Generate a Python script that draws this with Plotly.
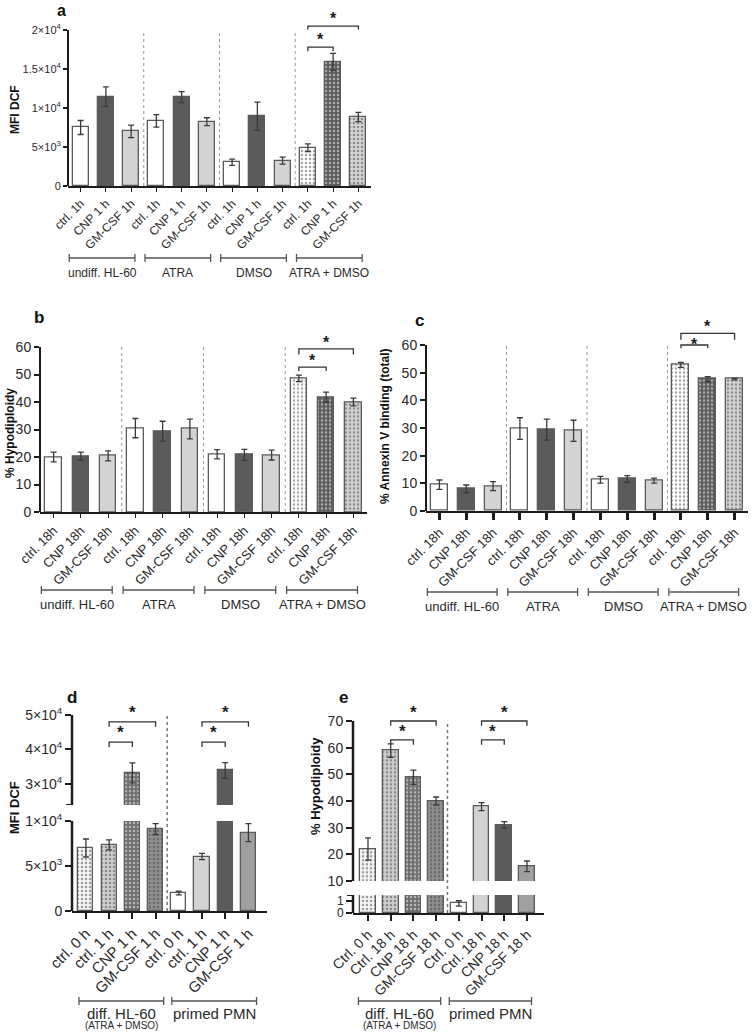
import plotly.graph_objects as go

W, H = 752, 1035
FONT = "Liberation Sans, Arial, sans-serif"
INK = "#1c1c1c"
EDGE = "#5a5a5a"

# ---------------- data ----------------
abc_groups = ["undiff. HL-60", "ATRA", "DMSO", "ATRA + DMSO"]

a_labels = ["ctrl. 1h", "CNP 1 h", "GM-CSF 1h"] * 4
a_mfi = [7500, 11450, 7000, 8350, 11400, 8250, 3050, 8950, 3250, 4900, 15900, 8850]
a_err = [900, 1250, 800, 800, 700, 500, 400, 1800, 450, 500, 1100, 600]

bc_labels = ["ctrl. 18h", "CNP 18h", "GM-CSF 18h"] * 4
b_hypo = [20.0, 20.3, 20.4, 30.5, 29.4, 30.2, 21.0, 20.8, 20.7, 48.6, 41.8, 40.0]
b_err = [1.8, 1.5, 1.8, 3.5, 3.6, 3.6, 1.7, 2.0, 1.8, 1.2, 1.8, 1.4]

c_annexin = [9.5, 8.0, 9.0, 29.8, 29.4, 29.0, 11.3, 11.6, 11.0, 52.8, 47.7, 47.7]
c_err = [1.7, 1.4, 1.6, 3.9, 3.8, 3.8, 1.2, 1.2, 0.9, 0.9, 0.9, 0.3]

de_groups = ["diff. HL-60", "primed PMN"]
de_sub = ["(ATRA + DMSO)", ""]

d_labels = ["ctrl. 0 h", "ctrl. 1 h", "CNP 1 h", "GM-CSF 1 h"] * 2
d_mfi = [7000, 7350, 33200, 9100, 2000, 6050, 33900, 8700]
d_err = [1000, 550, 2900, 600, 200, 350, 2300, 1000]

e_labels = ["Ctrl. 0 h", "Ctrl. 18 h", "CNP 18 h", "GM-CSF 18 h"] * 2
e_hypo = [22.0, 58.9, 48.9, 40.0, 0.8, 37.9, 31.0, 15.5]
e_err = [4.2, 2.5, 2.7, 1.5, 0.22, 1.5, 1.3, 2.0]

# significance: (from bar, to bar)
abc_sig = [(9, 10), (9, 11)]
de_sig = [(1, 2), (1, 3), (5, 6), (5, 7)]

# ---------------- styles ----------------
abc_fill = ["white", "#5b5b5b", "#d3d3d3"] * 4
abc_pat = [""] * 9 + [".", ".", "."]
abc_fg = ["#888888"] * 9 + ["#8a8a8a", "#2c2c2c", "#7c7c7c"]

de_fill = ["#f5f5f5", "#cdcdcd", "#6e6e6e", "#8f8f8f", "white", "#d3d3d3", "#5b5b5b", "#a0a0a0"]
de_pat = [".", ".", ".", ".", "", "", "", ""]
de_fg = ["#8c8c8c", "#7e7e7e", "#b9b9b9", "#c4c4c4", "#888", "#888", "#888", "#888"]

fig = go.Figure()
layout = {}
shapes = []
annos = []


def px_x(p):
    return p / W


def px_y(p):
    return 1 - p / H


def val_px(bottom_px, lo, ppu, v):
    return bottom_px - (v - lo) * ppu


def set_x(n, left, right, rng, labels, anchor, size, ticklen, tickwidth, visible=True):
    key = "xaxis" if n == 1 else f"xaxis{n}"
    layout[key] = dict(domain=[px_x(left), px_x(right)], range=rng, anchor=anchor,
                       tickmode="array", tickvals=list(range(len(labels))), ticktext=labels,
                       tickangle=-45, ticks="outside", ticklen=ticklen, tickwidth=tickwidth,
                       tickcolor=INK, showline=True, linewidth=2, linecolor=INK,
                       showgrid=False, zeroline=False, visible=visible, automargin=False,
                       tickfont=dict(family=FONT, size=size, color="#2a2a2a"))


def set_y(n, bottom_px, lo, ppu, hi, tickvals, ticktext, anchor, size, ticklen, tickwidth):
    key = "yaxis" if n == 1 else f"yaxis{n}"
    top_px = val_px(bottom_px, lo, ppu, hi)
    layout[key] = dict(domain=[px_y(bottom_px), px_y(top_px)], range=[lo, hi], anchor=anchor,
                       tickmode="array", tickvals=tickvals, ticktext=ticktext,
                       ticks="outside", ticklen=ticklen, tickwidth=tickwidth, tickcolor=INK,
                       showline=False, showgrid=False, zeroline=False, automargin=False,
                       tickfont=dict(family=FONT, size=size, color="#2a2a2a"))


def yline(xr, yr, y0, y1, w=2):
    shapes.append(dict(type="line", xref=f"{xr} domain", yref=yr, x0=0, x1=0, y0=y0, y1=y1,
                       line=dict(color=INK, width=w)))


def cap(xr, yr, y, frac, w=2):
    # little end cap where a broken axis stops
    shapes.append(dict(type="line", xref=f"{xr} domain", yref=yr, x0=-frac, x1=0, y0=y, y1=y,
                       line=dict(color=INK, width=w)))


def add_bars(xr, yr, vals, errs, fills, pats, fgs, width):
    fig.add_trace(go.Bar(
        x=list(range(len(vals))), y=vals, width=width, xaxis=xr, yaxis=yr,
        marker=dict(color=fills, line=dict(color=EDGE, width=1.3),
                    pattern=dict(shape=pats, fgcolor=fgs, bgcolor=fills, size=4,
                                 solidity=0.3, fillmode="overlay")),
        error_y=dict(type="data", array=errs, visible=True, color="#3a3a3a",
                     thickness=1.3, width=3),
        showlegend=False, hoverinfo="skip"))


def sig(xr, yr, x0, x1, y, tick, star_y, size=16):
    shapes.append(dict(type="path", xref=xr, yref=yr,
                       path=f"M {x0},{y - tick} L {x0},{y} L {x1},{y} L {x1},{y - tick}",
                       line=dict(color="#333", width=1.3)))
    annos.append(dict(xref=xr, yref=yr, x=(x0 + x1) / 2, y=star_y, text="<b>*</b>",
                      showarrow=False, yanchor="middle", yshift=-4,
                      font=dict(family=FONT, size=size, color=INK)))


def group(xr, x0, x1, y_px, label, label_px, size, sub="", sub_px=0):
    yb = px_y(y_px)
    c = 4 / H
    shapes.append(dict(type="path", xref=xr, yref="paper",
                       path=(f"M {x0},{yb + c} L {x0},{yb - c} M {x0},{yb} L {x1},{yb} "
                             f"M {x1},{yb + c} L {x1},{yb - c}"),
                       line=dict(color="#555", width=1.3)))
    annos.append(dict(xref=xr, yref="paper", x=(x0 + x1) / 2, y=px_y(label_px), text=label,
                      showarrow=False, yanchor="middle",
                      font=dict(family=FONT, size=size, color="#2a2a2a")))
    if sub:
        annos.append(dict(xref=xr, yref="paper", x=(x0 + x1) / 2, y=px_y(sub_px), text=sub,
                          showarrow=False, yanchor="middle",
                          font=dict(family=FONT, size=size - 5, color="#2a2a2a")))


def text(x, y, s, size, angle=0):
    annos.append(dict(xref="paper", yref="paper", x=px_x(x), y=px_y(y), text=s,
                      showarrow=False, textangle=angle, xanchor="center", yanchor="middle",
                      font=dict(family=FONT, size=size, color="#111")))


def divider(xr, yr, x, y0, y1):
    shapes.append(dict(type="line", xref=xr, yref=yr, x0=x, x1=x, y0=y0, y1=y1,
                       line=dict(color="#999", width=1, dash="dot")))


sup = "×10<sup>{}</sup>"

# ---------------- panel a ----------------
set_x(1, 68, 371, [-0.5, 11.5], a_labels, "y", 12, 4, 1.2)
set_y(1, 186, 0, 156 / 20000, 23200, [0, 5000, 10000, 15000, 20000],
      ["0", "5" + sup.format(3), "1" + sup.format(4), "1.5" + sup.format(4), "2" + sup.format(4)],
      "x", 11, 4, 1.5)
add_bars("x", "y", a_mfi, a_err, abc_fill, abc_pat, abc_fg, 0.63)
yline("x", "y", 0, 20000)
for g in range(1, 4):
    divider("x", "y", 3 * g - 0.5, 0, 20000)
sig("x", "y", *abc_sig[0], 17800, 520, 19300)
sig("x", "y", *abc_sig[1], 20500, 420, 22000)
for g, name in enumerate(abc_groups):
    group("x", 3 * g - 0.45, 3 * g + 2.15, 258, name, 273, 12)
text(15, 110, "<b>MFI DCF</b>", 12, -90)
text(62, 10, "<b>a</b>", 16)

# ---------------- panel b ----------------
set_x(2, 40, 367, [-0.5, 11.5], bc_labels, "y2", 13, 4, 1.2)
set_y(2, 512, 0, 165 / 60, 66, list(range(0, 61, 10)), [str(v) for v in range(0, 61, 10)],
      "x2", 14, 5, 1.5)
add_bars("x2", "y2", b_hypo, b_err, abc_fill, abc_pat, abc_fg, 0.61)
yline("x2", "y2", 0, 60)
for g in range(1, 4):
    divider("x2", "y2", 3 * g - 0.5, 0, 60)
sig("x2", "y2", *abc_sig[0], 52.7, 1.4, 56.6)
sig("x2", "y2", *abc_sig[1], 59.3, 2.0, 63.1)
for g, name in enumerate(abc_groups):
    group("x2", 3 * g - 0.45, 3 * g + 2.15, 590, name, 604, 13)
text(10, 433, "<b>% Hypodiploidy</b>", 12, -90)
text(39, 317, "<b>b</b>", 17)

# ---------------- panel c ----------------
set_x(3, 426, 748, [-0.5, 11.5], bc_labels, "y3", 13, 7, 2.5)
set_y(3, 511, 0, 166 / 60, 71, list(range(0, 61, 10)), [str(v) for v in range(0, 61, 10)],
      "x3", 14, 5, 2)
add_bars("x3", "y3", c_annexin, c_err, abc_fill, abc_pat, abc_fg, 0.63)
yline("x3", "y3", 0, 60)
for g in range(1, 4):
    divider("x3", "y3", 3 * g - 0.5, 0, 60)
sig("x3", "y3", *abc_sig[0], 60.0, 1.2, 61.8)
sig("x3", "y3", *abc_sig[1], 64.2, 2.3, 68.0)
for g, name in enumerate(abc_groups):
    group("x3", 3 * g - 0.45, 3 * g + 2.15, 592, name, 606, 13)
text(385, 426, "<b>% Annexin V binding (total)</b>", 12, -90)
text(419, 320, "<b>c</b>", 17)

# ---------------- panel d (broken axis) ----------------
d_up = (805, 23900, 34.5 / 10000, 54000)
set_x(4, 72, 267, [-0.6, 7.8], d_labels, "y4", 15, 6, 2)
set_y(4, 911, 0, 90 / 10000, 10000, [0, 5000, 10000],
      ["0", "5" + sup.format(3), "1" + sup.format(4)], "x4", 14, 6, 2)
set_x(5, 72, 267, [-0.6, 7.8], d_labels, "y5", 15, 6, 2, visible=False)
set_y(5, *d_up, [30000, 40000, 50000],
      ["3" + sup.format(4), "4" + sup.format(4), "5" + sup.format(4)], "x5", 14, 6, 2)
add_bars("x4", "y4", d_mfi, d_err, de_fill, de_pat, de_fg, 0.65)
add_bars("x5", "y5", d_mfi, d_err, de_fill, de_pat, de_fg, 0.65)
yline("x4", "y4", 0, 10000, 2.5)
yline("x5", "y5", 23900, 50000, 2.5)
cap("x5", "y5", 23900, 6 / 195)
shapes.append(dict(type="line", xref="x4", yref="paper", x0=3.5, x1=3.5,
                   y0=px_y(911), y1=px_y(val_px(*d_up[:3], 50000)),
                   line=dict(color="#777", width=1.5, dash="dot")))
for i, (s0, s1) in enumerate(de_sig):
    if i % 2 == 0:
        sig("x5", "y5", s0, s1, 42100, 1400, 46000, 17)
    else:
        sig("x5", "y5", s0, s1, 48000, 1400, 52000, 17)
for g, name in enumerate(de_groups):
    group("x4", 4 * g - 0.3, 4 * g + 3.35, 1001, name, 1013, 15, de_sub[g], 1025)
text(14, 808, "<b>MFI DCF</b>", 13, -90)
text(72, 697, "<b>d</b>", 17)

# ---------------- panel e (broken axis) ----------------
e_up = (881, 10, 160 / 60, 77)
set_x(6, 353, 544, [-0.66, 7.75], e_labels, "y6", 14, 6, 2)
set_y(6, 913, 0, 12, 1.5, [0, 1], ["0", "1"], "x6", 12, 6, 2)
set_x(7, 353, 544, [-0.66, 7.75], e_labels, "y7", 14, 6, 2, visible=False)
set_y(7, *e_up, list(range(10, 71, 10)), [str(v) for v in range(10, 71, 10)], "x7", 14, 6, 2)
add_bars("x6", "y6", e_hypo, e_err, de_fill, de_pat, de_fg, 0.69)
add_bars("x7", "y7", e_hypo, e_err, de_fill, de_pat, de_fg, 0.69)
yline("x6", "y6", 0, 1.5, 2.5)
yline("x7", "y7", 10, 70, 2.5)
cap("x6", "y6", 1.5, 6 / 191)
shapes.append(dict(type="line", xref="x6", yref="paper", x0=3.5, x1=3.5,
                   y0=px_y(913), y1=px_y(val_px(*e_up[:3], 70)),
                   line=dict(color="#777", width=1.5, dash="dot")))
for i, (s0, s1) in enumerate(de_sig):
    if i % 2 == 0:
        sig("x7", "y7", s0, s1, 62.9, 1.8, 67.6, 17)
    else:
        sig("x7", "y7", s0, s1, 70.0, 1.8, 74.8, 17)
for g, name in enumerate(de_groups):
    group("x6", 4 * g - 0.42, 4 * g + 3.2, 1001, name, 1013, 15, de_sub[g], 1025)
text(315, 786, "<b>% Hypodiploidy</b>", 13, -90)
text(343, 697, "<b>e</b>", 17)

fig.update_layout(width=W, height=H, margin=dict(l=0, r=0, t=0, b=0, autoexpand=False),
                  paper_bgcolor="white", plot_bgcolor="white", bargap=0,
                  shapes=shapes, annotations=annos, **layout)

# page margin off so the figure sits at the window's top-left corner
fig.write_html("out.html", config={"displayModeBar": False},
               post_script="document.body.style.margin='0';")
